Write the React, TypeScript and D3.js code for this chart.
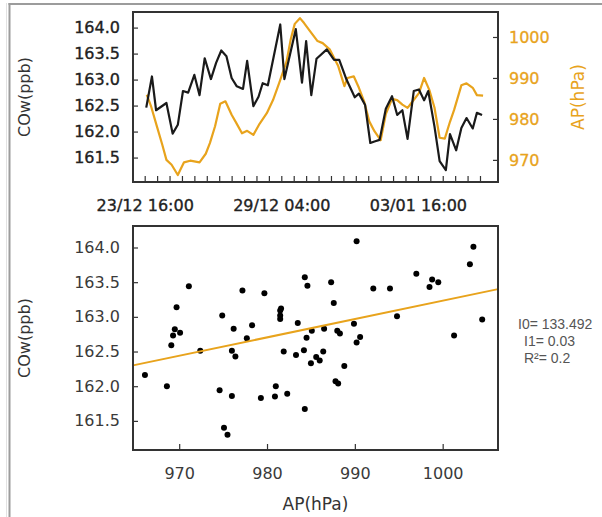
import React, { useEffect, useRef } from "react";
import * as d3 from "d3";

// hours after 23/12 16:00
const startTime = new Date(2013, 11, 23, 16, 0);

const coHours = [1.5, 7, 11, 21, 27, 32, 37, 42, 48, 53, 58, 64, 69, 74, 79, 84, 89, 95, 99, 105, 110, 114, 119, 131, 135, 146, 152, 156, 161, 166, 176, 183, 188, 195, 203, 207, 213, 218, 222, 227, 233, 239, 244, 249, 254, 260, 265, 270, 274, 280, 285, 291, 295, 301, 306, 311, 317, 321, 326];
const coValues = [162.46, 163.06, 162.41, 162.55, 161.96, 162.13, 162.78, 162.75, 163.09, 162.70, 163.41, 163.01, 163.32, 163.56, 163.45, 163.03, 162.87, 162.82, 163.36, 162.49, 162.67, 162.93, 162.89, 164.06, 163.01, 163.97, 162.94, 163.74, 162.70, 163.40, 163.58, 163.38, 163.38, 163.00, 162.66, 162.73, 162.51, 161.78, 161.81, 161.84, 162.44, 162.68, 162.32, 162.41, 161.86, 162.78, 162.81, 162.60, 162.78, 162.10, 161.43, 161.26, 161.95, 161.64, 162.07, 162.26, 162.06, 162.36, 162.32];

const apHours = [2, 6, 12, 17, 21, 26, 32, 38, 44, 53, 59, 63, 68, 73, 78, 84, 89, 94, 99, 105, 111, 118, 124, 130, 137, 141, 145, 150, 154, 161, 167, 172, 179, 187, 193, 196, 202, 207, 212, 217, 222, 228, 233, 239, 244, 249, 254, 259, 265, 270, 275, 280, 285, 290, 295, 299, 306, 311, 317, 321, 327];
const apValues = [985.9, 983.2, 978.0, 973.7, 970.0, 968.8, 966.3, 969.4, 969.8, 969.4, 971.5, 974.1, 978.2, 983.7, 984.3, 981.0, 978.8, 976.5, 977.1, 976.1, 978.8, 981.4, 984.6, 988.8, 993.9, 999.3, 1003.2, 1004.6, 1003.4, 1001.0, 999.0, 998.5, 996.9, 992.9, 988.0, 990.0, 990.4, 987.6, 984.3, 979.4, 977.0, 974.8, 981.2, 984.9, 984.6, 983.5, 982.7, 984.3, 986.3, 990.0, 987.1, 982.8, 975.4, 975.2, 979.3, 982.2, 988.2, 988.7, 987.6, 985.8, 985.7];

const scatterAP = [966.1, 968.6, 969.1, 969.3, 969.5, 969.7, 970.1, 971.1, 972.4, 974.6, 974.9, 975.1, 975.5, 976.0, 976.0, 976.2, 976.4, 977.2, 977.7, 978.3, 979.7, 979.3, 981.0, 980.9, 982.3, 981.9, 981.5, 981.5, 981.5, 981.6, 983.3, 983.5, 984.3, 984.6, 984.2, 984.5, 985.1, 985.0, 985.6, 986.0, 986.4, 986.5, 984.3, 987.3, 987.6, 988.0, 988.3, 987.8, 988.1, 988.8, 989.9, 990.2, 990.6, 990.2, 992.1, 994.0, 994.8, 997.0, 998.5, 998.8, 999.5, 1001.3, 1003.1, 1003.5, 1004.5];
const scatterCO = [162.16, 162.0, 162.59, 162.73, 162.82, 163.14, 162.77, 163.44, 162.51, 161.94, 163.02, 161.40, 161.30, 162.51, 161.86, 162.83, 162.43, 163.38, 162.69, 162.88, 163.34, 161.83, 162.0, 161.85, 161.89, 162.50, 163.09, 163.02, 162.97, 163.12, 162.45, 162.91, 163.57, 163.45, 162.52, 162.70, 162.80, 162.33, 162.42, 162.37, 162.50, 162.83, 161.67, 163.50, 163.20, 162.80, 162.76, 162.07, 162.04, 162.29, 162.90, 164.09, 162.71, 162.63, 163.41, 163.41, 163.01, 163.62, 163.43, 163.54, 163.50, 162.73, 163.76, 164.01, 162.96];

// fitted line as drawn, at the ends of the AP range
const fitAP = [964.74, 1006.3];
const fitCO = [162.3, 163.4];

const fitLabels = ["I0= 133.492", "I1= 0.03", "R²= 0.2"];

const coTicks = [161.5, 162.0, 162.5, 163.0, 163.5, 164.0];
const apTicksTop = [970, 980, 990, 1000];
const apTicksBottom = [970, 980, 990, 1000];
const labelledTimeTicks = [0, 11, 22];

const ORANGE = "#E8A31C";
const FONT = "DejaVu Sans, Verdana, sans-serif";

const addHours = (h: number) => new Date(startTime.getTime() + h * 3600 * 1000);

export default function App() {
  const svgRef = useRef<SVGSVGElement>(null);

  useEffect(() => {
    const svg = d3.select(svgRef.current);
    svg.selectAll("*").remove();

    // cell frame
    svg.append("rect").attr("x", 6).attr("y", 3).attr("width", 1).attr("height", 514).attr("fill", "#e2e2e2");
    svg.append("rect").attr("x", 8.5).attr("y", 3).attr("width", 2).attr("height", 514).attr("fill", "#9c9c9c");
    svg.append("rect").attr("x", 8.5).attr("y", 3).attr("width", 594).attr("height", 2).attr("fill", "#9c9c9c");

    const box = { left: 133, right: 498, top1: 12, bottom1: 182, top2: 226, bottom2: 450 };

    // ---------- top panel: time series ----------
    const x1 = d3.scaleTime()
      .domain([addHours(-11.3), addHours(341.4)])
      .range([box.left, box.right]);
    const yCO = d3.scaleLinear().domain([161.03, 164.3]).range([box.bottom1, box.top1]);
    const yAP = d3.scaleLinear().domain([964.6, 1006.1]).range([box.bottom1, box.top1]);

    const timeTicks = d3.range(28).map(i => addHours(i * 12));
    const fmt = d3.timeFormat("%d/%m %H:%M");

    const top = svg.append("g");

    const xAxis1 = top.append("g")
      .attr("transform", `translate(0,${box.bottom1})`)
      .call(d3.axisBottom(x1)
        .tickValues(timeTicks)
        .tickSizeInner(-6).tickSizeOuter(0).tickPadding(18)
        .tickFormat((d, i) => labelledTimeTicks.includes(i) ? fmt(d as Date) : ""));

    const yAxisL1 = top.append("g")
      .attr("transform", `translate(${box.left},0)`)
      .call(d3.axisLeft(yCO).tickValues(coTicks).tickFormat(d3.format(".1f"))
        .tickSizeInner(-5).tickSizeOuter(0).tickPadding(13));

    const yAxisR1 = top.append("g")
      .attr("transform", `translate(${box.right},0)`)
      .call(d3.axisRight(yAP).tickValues(apTicksTop).tickFormat(d3.format("d"))
        .tickSizeInner(-5).tickSizeOuter(0).tickPadding(11));

    [xAxis1, yAxisL1].forEach(g => {
      g.select(".domain").remove();
      g.selectAll("line").attr("stroke", "#333").attr("stroke-width", 1.2);
      g.selectAll("text").attr("font-family", FONT).attr("font-size", 16).attr("fill", "#222")
        .attr("stroke", "#222").attr("stroke-width", 0.35);
    });
    yAxisR1.select(".domain").remove();
    yAxisR1.selectAll("line").attr("stroke", "#333").attr("stroke-width", 1.2);
    yAxisR1.selectAll("text").attr("font-family", FONT).attr("font-size", 16).attr("fill", ORANGE)
      .attr("stroke", ORANGE).attr("stroke-width", 0.3);

    const apLine = d3.line<number>()
      .x((_, i) => x1(addHours(apHours[i])))
      .y(d => yAP(d));
    top.append("path")
      .datum(apValues)
      .attr("d", apLine)
      .attr("fill", "none")
      .attr("stroke", ORANGE)
      .attr("stroke-width", 2.2)
      .attr("stroke-linejoin", "round");

    const coLine = d3.line<number>()
      .x((_, i) => x1(addHours(coHours[i])))
      .y(d => yCO(d));
    top.append("path")
      .datum(coValues)
      .attr("d", coLine)
      .attr("fill", "none")
      .attr("stroke", "#1a1a1a")
      .attr("stroke-width", 2.2)
      .attr("stroke-linejoin", "round");

    top.append("rect")
      .attr("x", box.left).attr("y", box.top1)
      .attr("width", box.right - box.left).attr("height", box.bottom1 - box.top1)
      .attr("fill", "none").attr("stroke", "#333").attr("stroke-width", 2);

    top.append("text")
      .attr("transform", `translate(30,${(box.top1 + box.bottom1) / 2}) rotate(-90)`)
      .attr("text-anchor", "middle")
      .attr("font-family", FONT).attr("font-size", 16).attr("fill", "#333")
      .text("COw(ppb)");

    top.append("text")
      .attr("transform", `translate(584,${(box.top1 + box.bottom1) / 2}) rotate(-90)`)
      .attr("text-anchor", "middle")
      .attr("font-family", FONT).attr("font-size", 17).attr("fill", ORANGE)
      .text("AP(hPa)");

    // ---------- bottom panel: scatter ----------
    const x2 = d3.scaleLinear().domain([964.74, 1006.3]).range([box.left, box.right]);
    const y2 = d3.scaleLinear().domain([161.08, 164.31]).range([box.bottom2, box.top2]);

    const bottom = svg.append("g");

    const xAxis2 = bottom.append("g")
      .attr("transform", `translate(0,${box.bottom2})`)
      .call(d3.axisBottom(x2).tickValues(apTicksBottom).tickFormat(d3.format("d"))
        .tickSizeInner(-6).tickSizeOuter(0).tickPadding(18));
    const yAxis2 = bottom.append("g")
      .attr("transform", `translate(${box.left},0)`)
      .call(d3.axisLeft(y2).tickValues(coTicks).tickFormat(d3.format(".1f"))
        .tickSizeInner(-5).tickSizeOuter(0).tickPadding(13));

    [xAxis2, yAxis2].forEach(g => {
      g.select(".domain").remove();
      g.selectAll("line").attr("stroke", "#333").attr("stroke-width", 1.2);
      g.selectAll("text").attr("font-family", FONT).attr("font-size", 16).attr("fill", "#3a3a3a");
    });

    const points = scatterAP.map((ap, i) => ({ ap, co: scatterCO[i] }));
    bottom.selectAll("circle")
      .data(points)
      .join("circle")
      .attr("cx", d => x2(d.ap))
      .attr("cy", d => y2(d.co))
      .attr("r", 3)
      .attr("fill", "#000");

    bottom.append("line")
      .attr("x1", x2(fitAP[0])).attr("y1", y2(fitCO[0]))
      .attr("x2", x2(fitAP[1])).attr("y2", y2(fitCO[1]))
      .attr("stroke", ORANGE).attr("stroke-width", 2);

    bottom.append("rect")
      .attr("x", box.left).attr("y", box.top2)
      .attr("width", box.right - box.left).attr("height", box.bottom2 - box.top2)
      .attr("fill", "none").attr("stroke", "#333").attr("stroke-width", 2);

    bottom.append("text")
      .attr("transform", `translate(30,${(box.top2 + box.bottom2) / 2}) rotate(-90)`)
      .attr("text-anchor", "middle")
      .attr("font-family", FONT).attr("font-size", 16).attr("fill", "#333")
      .text("COw(ppb)");

    bottom.append("text")
      .attr("x", (box.left + box.right) / 2)
      .attr("y", 510)
      .attr("text-anchor", "middle")
      .attr("font-family", FONT).attr("font-size", 17).attr("fill", "#333")
      .text("AP(hPa)");

    fitLabels.forEach((t, i) => {
      bottom.append("text")
        .attr("x", i === 0 ? 518 : 524)
        .attr("y", 329 + i * 17)
        .attr("font-family", "Liberation Sans, Arial, sans-serif")
        .attr("font-size", 14)
        .attr("fill", "#555")
        .text(t);
    });
  }, []);

  return (
    <svg
      ref={svgRef}
      width={602}
      height={517}
      style={{ position: "absolute", left: 0, top: 0, background: "#fff" }}
    />
  );
}
